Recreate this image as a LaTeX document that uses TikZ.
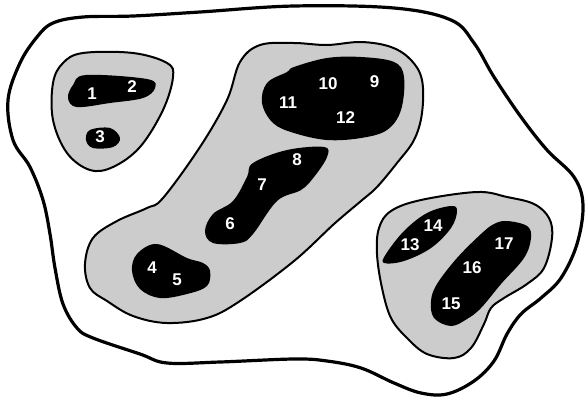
\documentclass[tikz,border=0pt]{standalone}
\usepackage{fontspec}
\setmainfont{Liberation Sans}
\begin{document}
\begin{tikzpicture}[x=1pt,y=-1pt,
  outerline/.style={draw=black,line width=3.2pt,fill=white},
  grayblob/.style={draw=black,line width=2pt,fill=gray!40},
  blackblob/.style={fill=black},
  lbl/.style={text=white,font=\bfseries\fontsize{17}{17}\selectfont,inner sep=0pt}]
\useasboundingbox (0,0) rectangle (588,402);
% outer boundary
\draw[outerline] plot[smooth cycle,tension=0.6] coordinates {
 (53,23) (83,17) (133,16) (200,12) (294,6) (394,8) (451,20) (474,43) (494,77)
 (521,117) (547,150) (574,177) (583,205) (577,244) (561,278) (541,298) (521,314)
 (507,334) (494,361) (474,381) (447,394) (421,393) (394,383) (361,368) (327,361)
 (294,359) (220,362) (167,363) (140,354) (93,338) (77,328) (63,304) (55,268)
 (50,234) (43,200) (30,167) (13,140) (8,100) (20,63) (37,37)};
% group 1-3
\draw[grayblob] plot[smooth cycle,tension=0.6] coordinates {
 (83,53) (133,53) (167,63) (173,77) (163,110) (140,147) (113,167) (90,170)
 (67,153) (53,120) (53,83) (63,63)};
% big group 4-12
\draw[grayblob] plot[smooth cycle,tension=0.6] coordinates {
 (260,45) (294,43) (327,45) (361,42) (391,47) (411,60) (422,80) (422,113)
 (414,140) (397,163) (377,187) (361,201) (334,224) (294,261) (240,301)
 (207,318) (167,323) (133,316) (107,301) (90,288) (85,264) (93,238)
 (117,221) (147,208) (163,198) (200,147) (227,100) (240,62)};
% group 13-17
\draw[grayblob] plot[smooth cycle,tension=0.6] coordinates {
 (391,211) (421,200) (477,192) (507,197) (534,204) (549,218) (552,238)
 (544,268) (527,284) (504,298) (491,308) (484,324) (471,348) (454,358)
 (427,354) (407,338) (391,318) (382,288) (377,254) (379,228)};
% black blobs
\fill[blackblob] plot[smooth cycle,tension=0.6] coordinates {
 (86,75) (147,79) (155,88) (143,98) (110,103) (77,107) (68,98) (73,85)};
\fill[blackblob] plot[smooth cycle,tension=0.6] coordinates {
 (90,130) (110,128) (120,138) (113,147) (93,148) (86,140)};
\fill[blackblob] plot[smooth cycle,tension=0.6] coordinates {
 (294,67) (327,58) (361,57) (394,62) (404,77) (401,110) (387,130) (361,138)
 (327,140) (294,133) (273,123) (262,103) (267,83) (287,72)};
\fill[blackblob] plot[smooth cycle,tension=0.6] coordinates {
 (253,163) (287,150) (324,147) (327,157) (314,177) (301,190) (277,201)
 (253,234) (240,243) (213,243) (205,231) (213,214) (233,201) (247,177)};
\fill[blackblob] plot[smooth cycle,tension=0.6] coordinates {
 (157,244) (187,258) (203,263) (210,271) (207,286) (187,294) (160,298)
 (140,289) (132,271) (137,254)};
\fill[blackblob] plot[smooth cycle,tension=0.6] coordinates {
 (384,263) (386,254) (404,231) (427,213) (451,206) (457,211) (451,228)
 (431,248) (404,261)};
\fill[blackblob] plot[smooth cycle,tension=0.6] coordinates {
 (507,221) (527,226) (531,238) (524,258) (501,284) (481,308) (467,319)
 (451,326) (434,318) (431,301) (437,284) (457,258) (481,234) (494,224)};
% labels
\node[lbl] (n1) at (92,94) {1};
\node[lbl] (n2) at (132,87) {2};
\node[lbl] (n3) at (100,137) {3};
\node[lbl] (n4) at (152,268) {4};
\node[lbl] (n5) at (177,280) {5};
\node[lbl] (n6) at (230,224) {6};
\node[lbl] (n7) at (262,185) {7};
\node[lbl] (n8) at (297,160) {8};
\node[lbl] (n9) at (374.5,81.5) {9};
\node[lbl] (n10) at (328,84) {10};
\node[lbl] (n11) at (288,103) {11};
\node[lbl] (n12) at (345.5,117.5) {12};
\node[lbl] (n13) at (410,245) {13};
\node[lbl] (n14) at (433,226) {14};
\node[lbl] (n15) at (451,304) {15};
\node[lbl] (n16) at (472,268) {16};
\node[lbl] (n17) at (504,244) {17};
\end{tikzpicture}
\end{document}
